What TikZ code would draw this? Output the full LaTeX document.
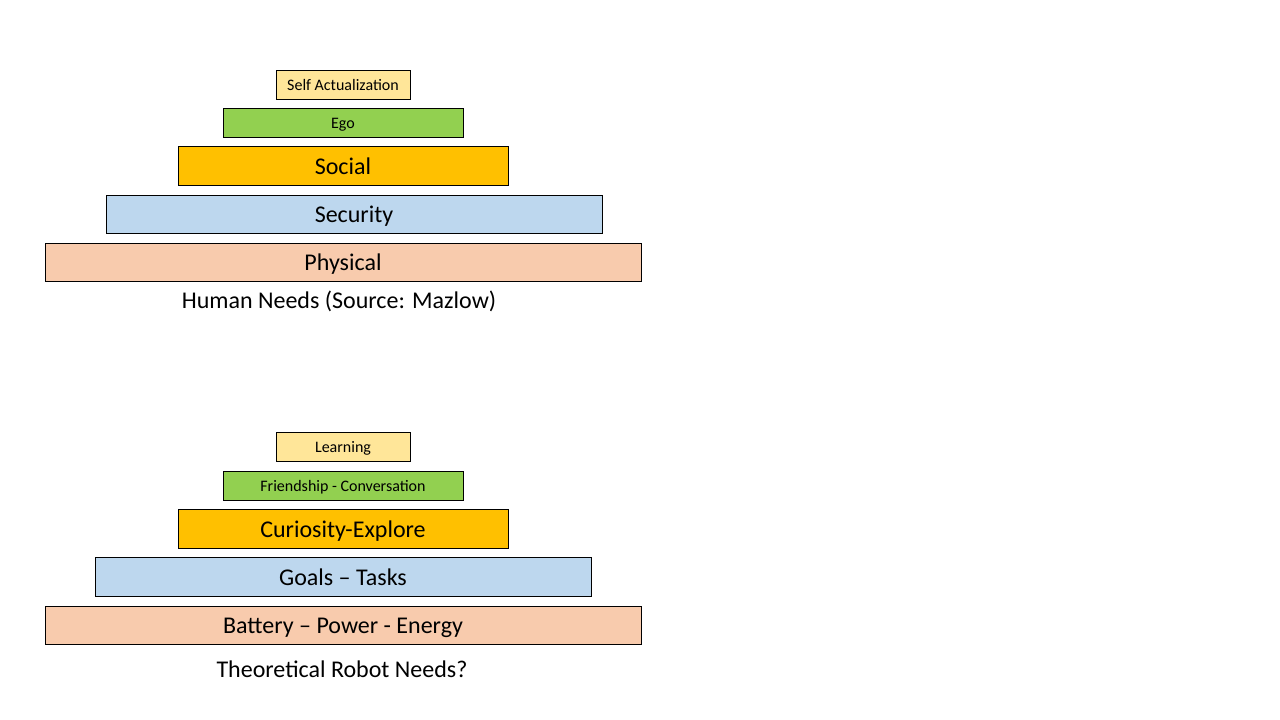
\documentclass[tikz,border=0pt]{standalone}
\usepackage{fontspec}
\setmainfont{Carlito}
\definecolor{cyel}{HTML}{FFE699}
\definecolor{cgrn}{HTML}{92D050}
\definecolor{corg}{HTML}{FFC000}
\definecolor{cblu}{HTML}{BDD7EE}
\definecolor{cpch}{HTML}{F8CBAD}
\tikzset{
  lvl/.style={draw=black, line width=0.9pt, inner sep=0pt, rectangle, text=black},
  smalltxt/.style={font=\fontsize{16}{18}\selectfont, text height=15pt, text depth=3pt},
  bigtxt/.style={font=\fontsize{24}{28}\selectfont, text height=22.5pt, text depth=5pt},
  captxt/.style={font=\fontsize{24}{28}\selectfont, inner sep=0pt, text height=22pt, text depth=5pt}
}
\begin{document}
\begin{tikzpicture}[x=1pt,y=-1pt]
\useasboundingbox[fill=white] (0,0) rectangle (1280,720);
% top pyramid
\node[lvl, smalltxt, fill=cyel, minimum width=134pt, minimum height=29pt] (sa) at (343,84.5) {Self Actualization};
\node[lvl, smalltxt, fill=cgrn, minimum width=240pt, minimum height=29pt] (ego) at (343,122.5) {Ego};
\node[lvl, bigtxt, fill=corg, minimum width=330pt, minimum height=39pt] (soc) at (343,165.5) {Social};
\node[lvl, bigtxt, fill=cblu, minimum width=496pt, minimum height=38pt] (sec) at (354,214) {Security};
\node[lvl, bigtxt, fill=cpch, minimum width=596pt, minimum height=38pt] (phy) at (343,262) {Physical};
\node[captxt] (cap1) at (339,300) {Human Needs (Source: Mazlow)};
% bottom pyramid
\node[lvl, smalltxt, fill=cyel, minimum width=134pt, minimum height=29pt] (lrn) at (343,446.5) {Learning};
\node[lvl, smalltxt, fill=cgrn, minimum width=240pt, minimum height=29pt] (fri) at (343,485.5) {Friendship - Conversation};
\node[lvl, bigtxt, fill=corg, minimum width=330pt, minimum height=39pt] (cur) at (343,528.5) {Curiosity-Explore};
\node[lvl, bigtxt, fill=cblu, minimum width=496pt, minimum height=39pt] (goa) at (343,576.5) {Goals -- Tasks};
\node[lvl, bigtxt, fill=cpch, minimum width=596pt, minimum height=38pt] (bat) at (343,625) {Battery -- Power - Energy};
\node[captxt] (cap2) at (342,669) {Theoretical Robot Needs?};
\end{tikzpicture}
\end{document}
